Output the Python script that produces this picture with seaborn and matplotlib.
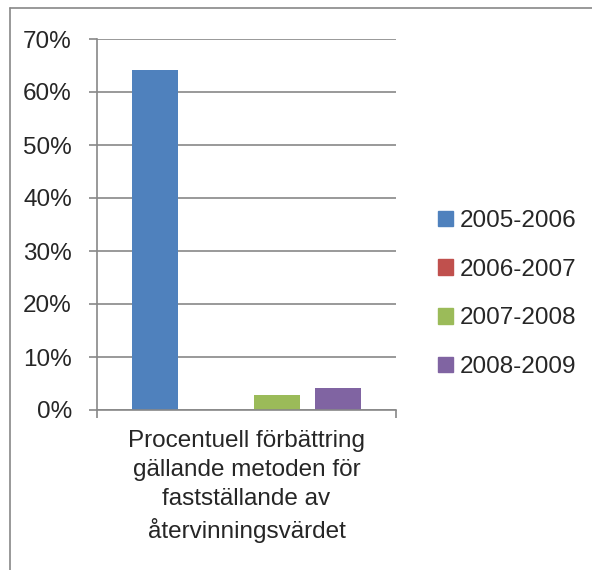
import matplotlib
matplotlib.use("Agg")
import matplotlib.pyplot as plt
import seaborn as sns
import pandas as pd
from matplotlib.lines import Line2D
from matplotlib.ticker import PercentFormatter

category = "Procentuell förbättring\ngällande metoden för\nfastställande av\nåtervinningsvärdet"
periods = ["2005-2006", "2006-2007", "2007-2008", "2008-2009"]
values = [64.2, 0.0, 2.8, 4.2]
colors = ["#4F81BD", "#C0504D", "#9BBB59", "#8064A2"]

df = pd.DataFrame({"cat": [category] * len(periods), "period": periods, "value": values})

sns.set_style("white")
plt.rcParams["font.family"] = ["Liberation Sans", "DejaVu Sans"]
fs = 17.5

fig = plt.figure(figsize=(5.92, 5.70), dpi=100)
ax = fig.add_axes([97 / 592, 1 - 410 / 570, 299 / 592, 371 / 570])

sns.barplot(data=df, x="cat", y="value", hue="period", palette=colors, saturation=1,
            width=0.816, gap=0.23, ax=ax, legend=False, linewidth=0)

ax.set_ylim(0, 70)
ax.set_xlim(-0.5, 0.5)
ax.set_yticks(range(0, 71, 10))
ax.yaxis.set_major_formatter(PercentFormatter(decimals=0))
ax.grid(axis="y", color="#888888", linewidth=1.2)
ax.set_axisbelow(True)
for s in ["top", "right"]:
    ax.spines[s].set_visible(False)
for s in ["left", "bottom"]:
    ax.spines[s].set_color("#888888")
    ax.spines[s].set_linewidth(1.2)
ax.set_xticks([-0.5, 0.5])
ax.set_xticklabels(["", ""])
ax.tick_params(axis="both", direction="out", length=6, width=1.2, color="#888888",
               labelsize=fs)
ax.tick_params(axis="y", left=True, pad=12)
ax.tick_params(axis="x", bottom=True)
ax.set_xlabel("")
ax.set_ylabel("")
ax.text(0, -0.055, category, transform=ax.get_xaxis_transform(), ha="center", va="top",
        fontsize=fs, linespacing=1.4)

handles = [plt.Rectangle((0, 0), 1, 1, color=c) for c in colors]
fig.legend(handles, periods, loc="center left", bbox_to_anchor=(438 / 592, 1 - 294 / 570),
           frameon=False, fontsize=fs, handlelength=0.6, handleheight=0.6,
           handletextpad=0.3, labelspacing=1.1, borderpad=0, borderaxespad=0)

# chart area border (left and top edges visible)
fig.add_artist(Line2D([10 / 592, 10 / 592], [0, 1 - 8 / 570], transform=fig.transFigure,
                      color="#888888", linewidth=1.2))
fig.add_artist(Line2D([10 / 592, 1], [1 - 8 / 570, 1 - 8 / 570], transform=fig.transFigure,
                      color="#888888", linewidth=1.2))

fig.savefig("out.png", dpi=100)
